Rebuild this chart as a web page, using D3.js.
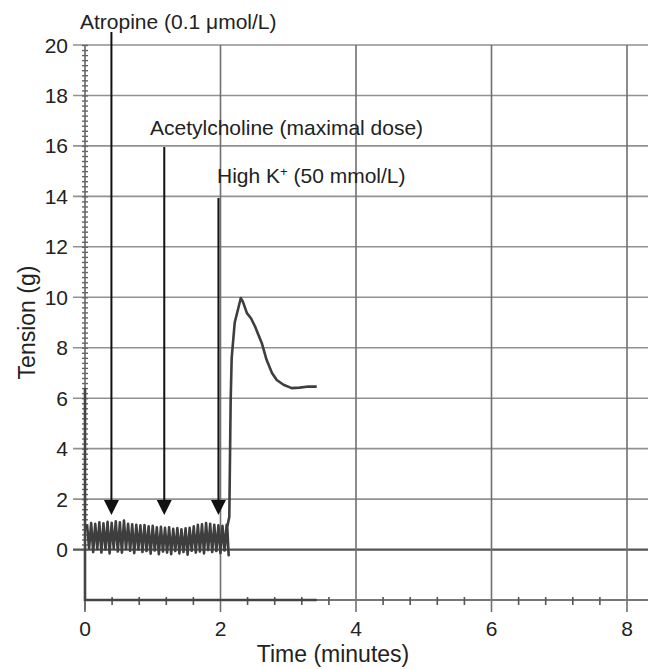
<!DOCTYPE html>
<html>
<head>
<meta charset="utf-8">
<script src="https://cdn.jsdelivr.net/npm/d3@7"></script>
<style>
  body { margin: 0; background: #fff; }
  text { font-family: "Liberation Sans", Arial, sans-serif; fill: #222; }
</style>
</head>
<body>
<div id="chart"></div>
<script>

// oscillating baseline before high K+ (g), one high and one low per beat
const oscHigh = [1.00, 1.05, 1.02, 1.08, 1.04, 1.10, 1.06, 1.12, 1.08, 1.15, 1.02, 1.00, 0.98, 0.96, 0.97, 0.92, 0.94, 0.88,
                 0.90, 0.86, 0.88, 0.82, 0.85, 0.80, 0.84, 0.86, 0.92, 0.98, 1.00, 1.05, 1.02, 0.98, 0.96, 0.94, 0.98]
const oscLow = [0.05, -0.10, 0.02, -0.12, 0.00, -0.15, 0.04, -0.08, -0.12, 0.02, -0.05, -0.14, 0.00, -0.10, -0.06, -0.16, -0.04, -0.18,
                -0.08, -0.12, -0.18, -0.06, -0.15, -0.10, -0.20, -0.05, -0.12, -0.08, -0.15, -0.02, -0.10, -0.06, -0.14, -0.04, -0.22]
const oscStart = 0.03
const oscEnd = 2.09

// contraction after high K+ (minutes, g)
const kTime = [2.10, 2.13, 2.15, 2.165, 2.21, 2.30, 2.33, 2.39, 2.45, 2.51, 2.61, 2.68, 2.76, 2.83, 2.93, 3.05, 3.17, 3.30, 3.42]
const kTension = [0.9, 1.3, 5.9, 7.6, 9.0, 9.97, 9.83, 9.37, 9.17, 8.84, 8.18, 7.52, 7.0, 6.72, 6.53, 6.40, 6.42, 6.46, 6.46]

// second channel / start artefact along the axes
const edgeTime = [0, 0, 3.42]
const edgeTension = [6.4, -2, -2]

// drug additions
const drugNames = ["Atropine (0.1 μmol/L)", "Acetylcholine (maximal dose)", "High K"]
const drugTime = [0.39, 1.17, 1.97]

const yTicks = [0, 2, 4, 6, 8, 10, 12, 14, 16, 18, 20]
const xTicks = [0, 2, 4, 6, 8]

const W = 651, H = 669
const margin = { top: 45, right: 3, bottom: 69, left: 85 }

const svg = d3.select("#chart")
    .append("svg")
    .attr("width", W)
    .attr("height", H)

const x = d3.scaleLinear()
    .domain([0, 8.31])
    .range([margin.left, W - margin.right])

const y = d3.scaleLinear()
    .domain([-2, 20])
    .range([H - margin.bottom, margin.top])

const grid = "#919191"

// horizontal grid
svg.append("g")
    .selectAll("line")
    .data(yTicks)
    .enter()
    .append("line")
        .attr("x1", x(0) - 12)
        .attr("x2", x.range()[1])
        .attr("y1", d => y(d))
        .attr("y2", d => y(d))
        .attr("stroke", d => d == 0 ? "#555" : grid)
        .attr("stroke-width", d => d == 0 ? 2.2 : 1.6)

// vertical grid
svg.append("g")
    .selectAll("line")
    .data(xTicks.slice(1))
    .enter()
    .append("line")
        .attr("x1", d => x(d))
        .attr("x2", d => x(d))
        .attr("y1", y(20))
        .attr("y2", y(-2) + 12)
        .attr("stroke", "#707070")
        .attr("stroke-width", 1.6)

// y axis with minor ticks
const yAxis = d3.axisLeft(y)
    .tickValues(d3.range(0, 20.01, 0.2))
    .tickSize(0)
    .tickFormat("")

const yg = svg.append("g")
    .attr("class", "y_axis")
    .attr("transform", `translate(${x(0)}, 0)`)
    .call(yAxis)
yg.select(".domain").remove()
yg.selectAll(".tick line")
    .attr("x1", -3)
    .attr("x2", 3)
    .attr("stroke", "#666")
    .attr("stroke-width", 1.4)

svg.append("line")
    .attr("x1", x(0)).attr("x2", x(0))
    .attr("y1", y(20)).attr("y2", y(-2) + 10)
    .attr("stroke", "#666")
    .attr("stroke-width", 1.6)

svg.append("g")
    .selectAll("text")
    .data(yTicks)
    .enter()
    .append("text")
        .attr("x", x(0) - 17)
        .attr("y", d => y(d) + 7.5)
        .attr("text-anchor", "end")
        .style("font-size", "21px")
        .text(d => d)

// x axis
svg.append("line")
    .attr("x1", x(0)).attr("x2", x.range()[1])
    .attr("y1", y(-2)).attr("y2", y(-2))
    .attr("stroke", "#777")
    .attr("stroke-width", 1.8)

svg.append("g")
    .selectAll("line")
    .data(d3.range(0.4, 8.31, 0.4).filter(d => Math.abs(d / 2 - Math.round(d / 2)) > 0.01))
    .enter()
    .append("line")
        .attr("x1", d => x(d))
        .attr("x2", d => x(d))
        .attr("y1", y(-2) - 3)
        .attr("y2", y(-2) + 5)
        .attr("stroke", "#555")
        .attr("stroke-width", 1.6)

svg.append("line")
    .attr("x1", x(0)).attr("x2", x(0))
    .attr("y1", y(-2)).attr("y2", y(-2) + 12)
    .attr("stroke", "#666")
    .attr("stroke-width", 1.6)

svg.append("g")
    .selectAll("text")
    .data(xTicks)
    .enter()
    .append("text")
        .attr("x", d => x(d))
        .attr("y", y(-2) + 36)
        .attr("text-anchor", "middle")
        .style("font-size", "21px")
        .text(d => d)

svg.append("text")
    .attr("x", 333)
    .attr("y", 662)
    .attr("text-anchor", "middle")
    .style("font-size", "23px")
    .text("Time (minutes)")

svg.append("text")
    .attr("transform", `translate(35, ${(y(-2) + y(20)) / 2}) rotate(-90)`)
    .attr("text-anchor", "middle")
    .style("font-size", "23px")
    .text("Tension (g)")

// traces
const oscData = []
const oscX = d3.scaleLinear().domain([0, oscHigh.length - 1]).range([oscStart, oscEnd])
oscHigh.forEach((h, i) => {
    oscData.push([oscX(i), h])
    oscData.push([oscX(i + 0.5), oscLow[i]])
})
const kData = kTime.map((t, i) => [t, kTension[i]])
const edgeData = edgeTime.map((t, i) => [t, edgeTension[i]])

const line = d3.line()
    .x(d => x(d[0]))
    .y(d => y(d[1]))

svg.append("path")
    .datum(edgeData)
    .attr("d", line)
    .attr("fill", "none")
    .attr("stroke", "#444")
    .attr("stroke-width", 2.6)

svg.append("path")
    .datum(oscData.concat(kData))
    .attr("d", line)
    .attr("fill", "none")
    .attr("stroke", "#3e3e3e")
    .attr("stroke-width", 2.6)
    .attr("stroke-linejoin", "round")

// arrows
const arrowTop = [32, 147, 198]
const labelY = [29, 135, 183]
const labelX = [80, 150, 217]
const tipY = y(1.37)

svg.append("g")
    .selectAll("line")
    .data(drugTime)
    .enter()
    .append("line")
        .attr("x1", d => x(d))
        .attr("x2", d => x(d))
        .attr("y1", (d, i) => arrowTop[i])
        .attr("y2", tipY - 10)
        .attr("stroke", "#111")
        .attr("stroke-width", 2)

svg.append("g")
    .selectAll("path")
    .data(drugTime)
    .enter()
    .append("path")
        .attr("d", d => `M${x(d) - 7.5},${tipY - 15} L${x(d) + 7.5},${tipY - 15} L${x(d)},${tipY} Z`)
        .attr("fill", "#111")

const labels = svg.append("g")
    .selectAll("text")
    .data(drugNames)
    .enter()
    .append("text")
        .attr("x", (d, i) => labelX[i])
        .attr("y", (d, i) => labelY[i])
        .style("font-size", "21px")
        .text(d => d)

// superscript for K+
const kLabel = labels.filter((d, i) => i == 2)
kLabel.append("tspan")
    .attr("dy", -7)
    .style("font-size", "13px")
    .text("+")
kLabel.append("tspan")
    .attr("dy", 7)
    .text(" (50 mmol/L)")

</script>
</body>
</html>
